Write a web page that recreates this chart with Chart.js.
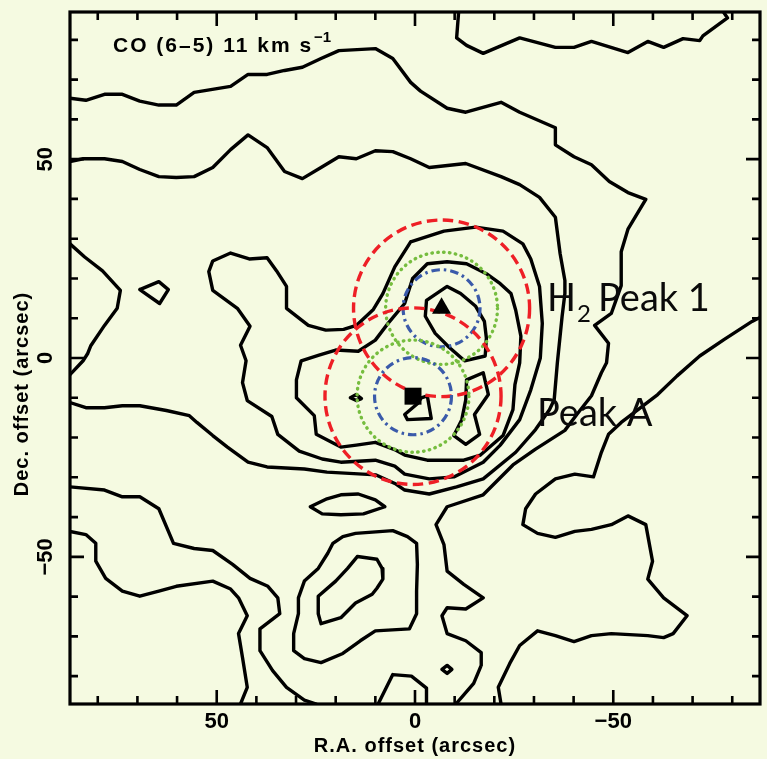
<!DOCTYPE html>
<html>
<head>
<meta charset="utf-8">
<script src="https://cdn.jsdelivr.net/npm/chart.js@4.4.1/dist/chart.umd.min.js"></script>
<style>
  html, body { margin: 0; padding: 0; background: #F5FAE1; overflow: hidden; width: 767px; height: 759px; }
  canvas { display: block; }
</style>
</head>
<body>
<canvas id="map" width="772" height="759"></canvas>
<script>
// CO (6-5) integrated intensity contours, offsets in arcsec as [R.A., Dec.] pairs
const contourNorthEnvelope = [[87.0,65.3],[83.0,64.8],[78.3,66.3],[73.8,66.3],[69.4,64.6],[64.6,63.6],[60.2,63.6],[55.7,66.8],[46.5,68.3],[42.1,71.3],[37.3,71.3],[32.9,72.3],[28.4,73.1],[23.7,75.3],[19.2,77.3],[10.0,77.8],[5.6,75.3],[1.1,69.3],[-1.4,67.1],[-8.1,62.8],[-12.8,61.8],[-21.7,64.3],[-26.4,61.8],[-35.4,57.9],[-35.4,53.6],[-40.1,50.6],[-44.5,48.6],[-49.0,44.4],[-53.7,41.6],[-58.2,39.9],[-53.7,32.4],[-52.0,26.7],[-52.0,18.2],[-49.5,11.2],[-45.3,8.2],[-48.8,3.7],[-48.3,-1.2],[-47.0,-3.7],[-44.5,-9.5],[-40.8,-14.2],[-37.8,-18.2],[-30.4,-22.9],[-24.7,-26.9],[-17.2,-34.4],[-8.1,-37.4],[-5.3,-41.9],[-7.3,-46.9],[-8.1,-53.6],[-12.3,-56.9],[-17.2,-60.3],[-12.8,-63.1],[-8.1,-62.8],[-6.8,-64.8],[-8.1,-69.3],[-12.8,-71.1],[-16.7,-74.1],[-16.7,-77.3],[-14.8,-81.8],[-10.3,-87.0]];
const contourNorthEast = [[-11.0,87.0],[-10.5,80.5],[-13.0,78.6],[-17.2,76.6],[-26.4,80.5],[-35.4,78.1],[-40.1,78.1],[-44.5,79.6],[-53.7,76.8],[-58.7,79.6],[-62.7,78.1],[-67.6,80.3],[-71.8,79.8],[-72.6,81.0],[-78.8,85.5],[-77.8,87.0]];
const contourMiddle = [[87.0,49.4],[83.7,50.1],[78.3,50.1],[73.8,49.4],[69.4,47.4],[64.6,45.6],[60.2,45.4],[55.7,45.6],[51.0,47.9],[46.5,52.4],[42.1,56.1],[37.3,52.9],[32.9,46.9],[28.4,45.1],[23.7,47.9],[19.2,50.6],[14.8,50.1],[10.0,52.1],[5.6,51.9],[1.1,50.1],[-3.6,47.9],[-12.8,48.9],[-21.7,45.6],[-26.4,43.6],[-31.4,40.4],[-35.4,35.4],[-36.6,26.2],[-37.8,19.5],[-37.8,16.2],[-37.1,10.5],[-35.9,-1.2],[-35.1,-10.5],[-33.9,-13.0],[-30.4,-18.0],[-25.4,-23.7],[-17.2,-30.4],[-10.5,-32.4],[-3.6,-34.2],[2.6,-33.2],[4.8,-31.7],[9.8,-29.4],[22.2,-28.7],[27.9,-27.9],[37.3,-27.4],[42.1,-26.2],[47.3,-22.4],[51.0,-19.5],[55.0,-16.2],[56.9,-14.5],[62.7,-13.2],[69.4,-12.0],[73.8,-12.0],[78.3,-12.5],[83.0,-12.5],[87.0,-11.2]];
const contourWestEdge = [[87.0,28.7],[83.3,25.4],[78.8,21.9],[74.3,17.0],[75.1,12.5],[78.3,8.2],[81.8,3.0],[82.5,1.2],[83.7,-0.7],[87.0,-4.2]];
const contourWestKnot = [[69.4,17.2],[64.6,19.2],[62.2,17.2],[64.4,13.7],[69.4,17.2]];
const contourCore2 = [[1.1,29.2],[-7.3,31.9],[-15.3,32.9],[-22.2,31.9],[-27.2,28.7],[-29.2,24.9],[-31.4,18.0],[-32.1,8.7],[-31.6,0.0],[-29.2,-8.0],[-26.4,-15.5],[-21.5,-21.9],[-17.2,-26.2],[-9.8,-29.9],[-3.6,-30.4],[2.6,-29.2],[5.1,-27.2],[10.0,-25.7],[18.7,-26.2],[23.4,-25.4],[29.2,-23.4],[34.6,-19.2],[36.1,-14.7],[42.3,-10.7],[43.5,-6.2],[42.6,-0.7],[44.0,3.2],[41.6,8.0],[44.8,12.5],[51.0,17.0],[52.0,21.7],[51.0,24.4],[46.5,26.4],[41.8,24.9],[37.3,25.2],[34.9,21.9],[32.4,18.0],[32.4,12.5],[26.9,8.2],[22.5,7.0],[18.0,7.2],[14.8,8.2],[10.5,12.2],[8.1,16.2],[5.1,22.9],[1.1,29.2]];
const contourCore3 = [[6.8,8.7],[2.6,13.7],[0.6,20.0],[-3.1,23.7],[-8.1,24.2],[-13.0,23.7],[-18.0,21.2],[-21.5,18.7],[-24.2,16.2],[-25.4,12.0],[-26.7,5.5],[-26.4,-1.2],[-25.2,-6.7],[-24.7,-13.0],[-22.2,-19.5],[-16.5,-24.4],[-12.3,-25.7],[-3.1,-25.7],[2.6,-24.4],[4.8,-23.2],[10.0,-21.2],[14.8,-21.9],[18.7,-22.4],[24.9,-19.2],[25.4,-14.5],[29.9,-10.0],[29.9,-5.5],[28.7,-0.7],[24.2,0.7],[20.0,2.0],[14.3,1.7],[10.0,4.5],[6.8,8.7]];
const contourPeak1 = [[-2.9,14.5],[-8.1,18.0],[-11.5,16.2],[-15.3,13.0],[-17.5,9.2],[-18.0,5.0],[-17.7,0.5],[-12.5,-0.7],[-8.6,2.7],[-5.1,6.2],[-2.6,10.5],[-2.9,14.5]];
const contourPeakA = [[-3.1,-9.5],[-4.1,-15.2],[1.9,-15.5],[2.6,-14.2],[-0.6,-11.5],[-1.6,-10.0],[-3.1,-9.5]];
const contourWestSpot = [[16.3,-10.0],[14.8,-9.2],[13.5,-10.2],[14.8,-10.7],[16.3,-10.0]];
const contourEastSpur = [[-13.0,-5.5],[-17.2,-3.7],[-18.5,-9.2],[-15.0,-14.2],[-16.3,-19.2],[-12.8,-21.7],[-9.8,-19.5],[-11.8,-15.5],[-12.8,-10.5],[-13.0,-5.5]];
const contourEast = [[-87.0,10.2],[-85.0,9.2],[-78.0,4.7],[-71.8,0.5],[-66.1,-4.5],[-61.2,-9.2],[-56.9,-12.5],[-52.0,-16.2],[-48.8,-19.2],[-47.0,-23.7],[-45.0,-29.9],[-40.3,-29.2],[-35.4,-30.4],[-30.4,-34.2],[-27.9,-37.9],[-27.2,-41.9],[-30.9,-44.1],[-35.4,-45.1],[-40.3,-43.6],[-44.5,-43.1],[-49.5,-41.9],[-53.7,-39.7],[-58.2,-41.9],[-59.9,-51.1],[-58.7,-55.6],[-62.7,-60.3],[-68.6,-64.8],[-65.1,-69.3],[-62.7,-70.3],[-58.7,-69.8],[-49.5,-69.3],[-44.5,-69.8],[-40.1,-71.3],[-35.4,-69.8],[-30.9,-68.6],[-26.4,-72.3],[-23.9,-76.8],[-21.0,-82.8],[-21.7,-87.0]];
const contourSouthWest1 = [[87.0,-32.4],[78.3,-33.2],[73.8,-34.9],[69.4,-34.9],[64.6,-37.9],[60.9,-46.6],[55.7,-47.9],[51.0,-48.4],[46.0,-51.9],[41.6,-55.4],[37.1,-57.4],[34.6,-60.3],[34.1,-64.3],[39.1,-68.1],[39.1,-73.6],[35.9,-78.6],[32.4,-82.8],[27.9,-86.0],[24.9,-87.0]];
const contourSouthWest2 = [[87.0,-43.6],[83.0,-44.4],[80.5,-46.6],[80.5,-51.1],[78.0,-55.4],[73.8,-58.6],[69.4,-59.9],[64.6,-58.6],[60.2,-57.4],[51.0,-56.1],[46.5,-58.1],[44.5,-60.3],[42.3,-64.8],[44.5,-69.3],[43.5,-75.3],[42.3,-82.8],[44.0,-87.0]];
const contourSouthEdge = [[9.3,-87.0],[5.6,-79.6],[0.9,-80.0],[-2.9,-83.0],[-2.9,-87.0]];
const contourSouthBar = [[26.4,-37.4],[22.2,-35.4],[18.7,-34.4],[14.3,-34.2],[10.0,-35.7],[7.6,-37.4],[13.0,-39.2],[18.7,-39.4],[23.4,-39.2],[26.4,-37.4]];
const contourSouthClump = [[20.7,-46.6],[18.2,-44.9],[15.0,-44.1],[5.6,-43.4],[1.9,-44.9],[-0.4,-46.6],[-0.6,-51.9],[-0.4,-58.6],[-0.4,-64.3],[1.4,-68.1],[10.0,-68.6],[13.8,-71.1],[18.2,-74.3],[23.7,-76.6],[27.9,-75.6],[30.6,-73.6],[30.6,-69.3],[29.4,-64.3],[29.4,-60.3],[27.9,-56.1],[24.4,-52.9],[22.0,-49.1],[20.7,-46.6]];
const contourSouthClumpInner = [[14.5,-49.9],[9.6,-50.6],[8.3,-52.9],[8.1,-55.6],[9.6,-57.9],[10.8,-59.4],[15.0,-61.6],[18.7,-65.3],[23.7,-66.8],[24.4,-64.3],[24.4,-59.9],[20.0,-56.1],[17.0,-52.9],[14.5,-49.9]];
const contourSouthSpot = [[-6.8,-78.3],[-8.1,-77.3],[-9.3,-78.3],[-8.1,-79.3],[-6.8,-78.3]];

// H2 Peak 1 and Peak A positions [R.A., Dec.]
const peak1 = [-6.7, 12.5];
const peakA = [0.5, -9.6];
// Beam radii in arcsec, drawn around both peaks
const beamRadii = { wide: 22.2, mid: 14.1, narrow: 9.7 };

// Axis extent and labelled ticks
const axisLimit = 87;
const labelledTicks = [50, 0, -50];
const minorTicks = [-80, -70, -60, -50, -40, -30, -20, -10, 0, 10, 20, 30, 40, 50, 60, 70, 80];

const contours = [
  contourNorthEnvelope, contourNorthEast, contourMiddle, contourWestEdge, contourWestKnot,
  contourCore2, contourCore3, contourPeak1, contourPeakA, contourWestSpot, contourEastSpur,
  contourEast, contourSouthWest1, contourSouthWest2, contourSouthEdge, contourSouthBar,
  contourSouthClump, contourSouthClumpInner, contourSouthSpot
];

const BG = '#F5FAE1';
const PG_FONT = '"Liberation Sans", Arial, sans-serif';
const LABEL_FONT = 'Lato, "Open Sans", sans-serif';

const toPoints = arr => arr.map(([x, y]) => ({ x, y }));

const datasets = [
  { data: [{ x: peak1[0], y: peak1[1] }], pointStyle: 'triangle', pointRadius: 11, backgroundColor: '#000', borderWidth: 0, showLine: false },
  { data: [{ x: peakA[0], y: peakA[1] }], pointStyle: 'rect', pointRadius: 12, backgroundColor: '#000', borderWidth: 0, showLine: false }
].concat(contours.map(c => ({
  data: toPoints(c),
  showLine: true,
  borderColor: '#000',
  borderWidth: 3.4,
  borderJoinStyle: 'round',
  borderCapStyle: 'round',
  pointRadius: 0,
  fill: false,
  tension: 0
})));

function drawBeams(chart) {
  const { ctx, scales: { x, y } } = chart;
  const ring = (centre, r, color, dash, width, cap) => {
    const px = x.getPixelForValue(centre[0]);
    const py = y.getPixelForValue(centre[1]);
    const rx = Math.abs(x.getPixelForValue(centre[0] + r) - px);
    const ry = Math.abs(y.getPixelForValue(centre[1] + r) - py);
    ctx.save();
    ctx.strokeStyle = color;
    ctx.lineWidth = width;
    ctx.lineCap = cap;
    ctx.setLineDash(dash);
    ctx.beginPath();
    ctx.ellipse(px, py, rx, ry, 0, 0, Math.PI * 2);
    ctx.stroke();
    ctx.restore();
  };
  [peak1, peakA].forEach(c => {
    ring(c, beamRadii.mid, '#76BD3F', [0.5, 5.4], 3.4, 'round');
    ring(c, beamRadii.narrow, '#3A5AAA', [8.5, 4, 2.5, 4], 3.2, 'butt');
    ring(c, beamRadii.wide, '#EE1F26', [10.5, 5.5], 3.4, 'butt');
  });
}

function drawFrameAndText(chart) {
  const { ctx, chartArea: a, scales: { x, y } } = chart;
  ctx.save();
  ctx.strokeStyle = '#000';
  ctx.lineWidth = 3.2;
  ctx.strokeRect(a.left, a.top, a.right - a.left, a.bottom - a.top);

  ctx.lineWidth = 2.6;
  ctx.lineCap = 'butt';
  ctx.beginPath();
  minorTicks.forEach(v => {
    const len = v % 50 === 0 ? 14 : 8;
    const px = x.getPixelForValue(v);
    ctx.moveTo(px, a.bottom); ctx.lineTo(px, a.bottom - len);
    ctx.moveTo(px, a.top); ctx.lineTo(px, a.top + len);
    const py = y.getPixelForValue(v);
    ctx.moveTo(a.left, py); ctx.lineTo(a.left + len, py);
    ctx.moveTo(a.right, py); ctx.lineTo(a.right - len, py);
  });
  ctx.stroke();

  ctx.fillStyle = '#000';
  const fmt = v => (v < 0 ? '\u2212' + Math.abs(v) : String(v));
  ctx.font = 'bold 22px ' + PG_FONT;
  ctx.textAlign = 'center';
  ctx.textBaseline = 'middle';
  labelledTicks.forEach(v => {
    ctx.fillText(fmt(v), x.getPixelForValue(v), 722);
    ctx.save();
    ctx.translate(46, y.getPixelForValue(v));
    ctx.rotate(-Math.PI / 2);
    ctx.fillText(fmt(v), 0, 0);
    ctx.restore();
  });

  ctx.font = 'bold 20px ' + PG_FONT;
  ctx.letterSpacing = '1px';
  ctx.fillText('R.A. offset (arcsec)', x.getPixelForValue(0), 746);
  ctx.save();
  ctx.translate(22, 394);
  ctx.rotate(-Math.PI / 2);
  ctx.fillText('Dec. offset (arcsec)', 0, 0);
  ctx.restore();

  // line / velocity caption
  ctx.textAlign = 'left';
  ctx.textBaseline = 'alphabetic';
  ctx.font = 'bold 21px ' + PG_FONT;
  ctx.letterSpacing = '2px';
  const cap = 'CO (6\u20135) 11 km s';
  ctx.fillText(cap, 113, 52);
  const capW = ctx.measureText(cap).width;
  ctx.font = 'bold 15px ' + PG_FONT;
  ctx.letterSpacing = '0px';
  ctx.fillText('\u22121', 113 + capW + 1, 42);

  // peak annotations
  ctx.fillStyle = '#0a0a0a';
  ctx.font = '38px ' + LABEL_FONT;
  ctx.fillText('H', 547, 311);
  const hW = ctx.measureText('H').width;
  ctx.font = '24px ' + LABEL_FONT;
  ctx.fillText('2', 547 + hW + 1, 322);
  ctx.font = '38px ' + LABEL_FONT;
  ctx.fillText('Peak 1', 598, 311);
  ctx.fillText('Peak A', 537, 426);
  ctx.restore();
}

const mapPlugin = {
  id: 'coMap',
  beforeDraw(chart) {
    const c = chart.ctx;
    c.save();
    c.fillStyle = BG;
    c.fillRect(0, 0, chart.width, chart.height);
    c.restore();
  },
  afterDatasetDraw(chart, args) {
    if (args.index === 2) drawBeams(chart);
  },
  afterDraw(chart) {
    drawFrameAndText(chart);
  }
};

new Chart(document.getElementById('map'), {
  type: 'scatter',
  data: { datasets },
  options: {
    responsive: false,
    animation: false,
    events: [],
    layout: { padding: { top: 6, right: 1, left: 0, bottom: 0 } },
    plugins: { legend: { display: false }, tooltip: { enabled: false }, title: { display: false } },
    scales: {
      x: {
        type: 'linear',
        reverse: true,
        min: -axisLimit,
        max: axisLimit,
        grid: { display: false },
        border: { display: false },
        ticks: { display: false },
        afterFit: s => { s.height = 55; }
      },
      y: {
        type: 'linear',
        min: -axisLimit,
        max: axisLimit,
        grid: { display: false },
        border: { display: false },
        ticks: { display: false },
        afterFit: s => { s.width = 70; }
      }
    }
  },
  plugins: [mapPlugin]
});
</script>
</body>
</html>
